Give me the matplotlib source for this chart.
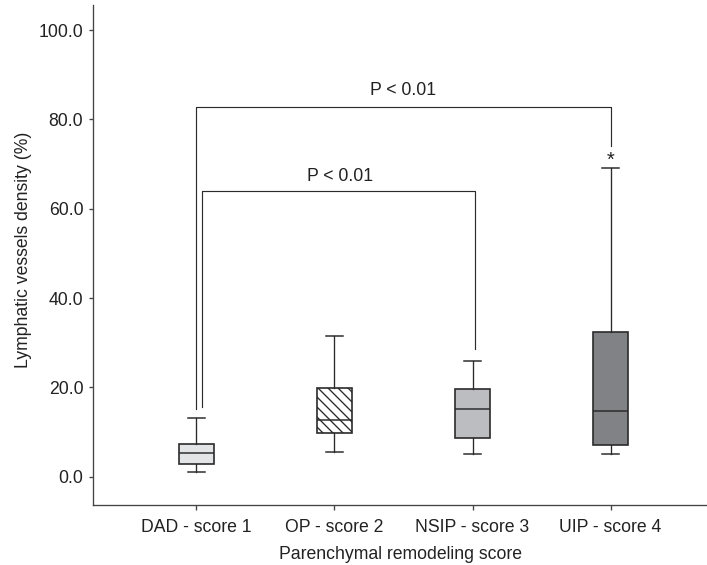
import matplotlib
matplotlib.use("Agg")
import matplotlib.pyplot as plt

plt.rcParams['font.family'] = ['Liberation Sans', 'DejaVu Sans']
plt.rcParams['hatch.linewidth'] = 0.8

groups = ['DAD - score 1', 'OP - score 2', 'NSIP - score 3', 'UIP - score 4']
whis_hi = [13.1, 31.6, 26.0, 69.2]
q3 = [7.4, 19.9, 19.6, 32.5]
medians = [5.2, 12.8, 15.2, 14.7]
q1 = [2.9, 9.7, 8.6, 7.1]
whis_lo = [1.1, 5.5, 5.1, 5.0]
fills = ['#e3e4e6', '#ffffff', '#bbbdc0', '#808285']
hatches = [None, '\\\\\\\\', None, None]

# significance brackets: (x left, x right, bar height, left foot, right foot, label x, label y)
brackets = [
    (1.0, 4.0, 82.7, 15.2, 74.0, 2.5, 86.4),
    (1.04, 3.02, 64.0, 15.5, 28.5, 2.04, 67.3),
]
star_x, star_y = 4.0, 69.7

edge = '#2b2b2b'
fig = plt.figure(figsize=(707 / 120, 565 / 120), dpi=120)
ax = fig.add_axes([0.132, 0.1062, 0.868, 0.885])

stats = []
for i, g in enumerate(groups):
    stats.append(dict(label=g, med=medians[i], q1=q1[i], q3=q3[i],
                      whislo=whis_lo[i], whishi=whis_hi[i], fliers=[]))

pos = list(range(1, len(groups) + 1))
bp = ax.bxp(stats, positions=pos, widths=0.25, patch_artist=True,
            showfliers=False, capwidths=0.12,
            boxprops=dict(edgecolor=edge, linewidth=1.0),
            medianprops=dict(color=edge, linewidth=0.9),
            whiskerprops=dict(color=edge, linewidth=0.8),
            capprops=dict(color=edge, linewidth=0.9))
for box, fc, h in zip(bp['boxes'], fills, hatches):
    box.set_facecolor(fc)
    if h:
        box.set_hatch(h)

for x1, x2, y, f1, f2, tx, ty in brackets:
    ax.plot([x1, x1, x2, x2], [f1, y, y, f2], color=edge, lw=0.7)
    ax.text(tx, ty, 'P < 0.01', ha='center', va='center', fontsize=10.6, color='#222222')
ax.text(star_x, star_y, '*', ha='center', va='baseline', fontsize=12, color='#222222')

ax.set_xlim(0.254, 4.698)
ax.set_ylim(-6.34, 105.62)
ax.set_yticks([0, 20, 40, 60, 80, 100])
ax.set_yticklabels([f'{v:.1f}' for v in [0, 20, 40, 60, 80, 100]])
ax.set_xticks(pos)
ax.set_xticklabels(groups)

for s in ['top', 'right']:
    ax.spines[s].set_visible(False)
for s in ['left', 'bottom']:
    ax.spines[s].set_color('#444444')
    ax.spines[s].set_linewidth(0.8)
ax.tick_params(axis='y', length=2.6, width=0.8, color='#444444', pad=3.4,
               labelsize=10.6, labelcolor='#222222')
ax.tick_params(axis='x', length=3.0, width=0.8, color='#444444', pad=5.5,
               labelsize=10.6, labelcolor='#222222')

ax.set_xlabel('Parenchymal remodeling score', fontsize=10.6, color='#222222', labelpad=6)
ax.set_ylabel('Lymphatic vessels density (%)', fontsize=10.6, color='#222222')
ax.yaxis.set_label_coords(-0.1, 0.511)

fig.savefig('out.png', dpi=120)
